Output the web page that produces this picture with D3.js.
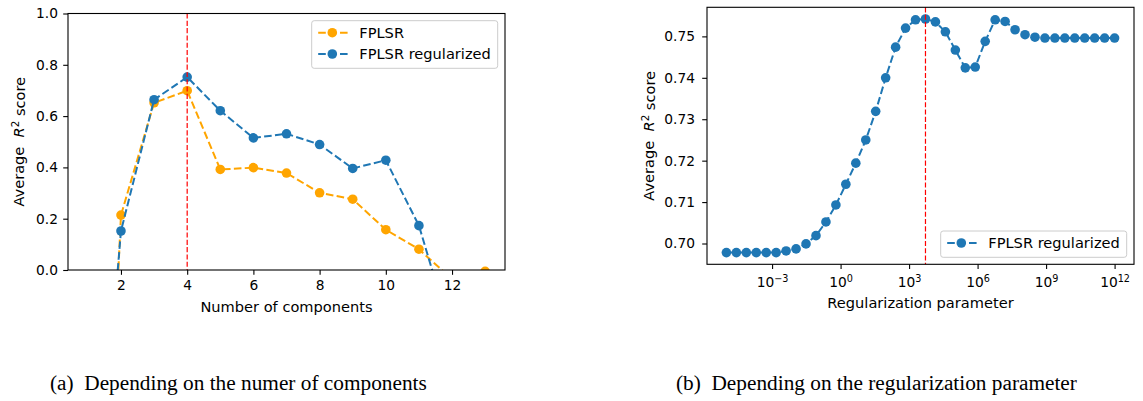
<!DOCTYPE html>
<html>
<head>
<meta charset="utf-8">
<script src="https://cdn.jsdelivr.net/npm/d3@7"></script>
<style>
  html, body { margin: 0; padding: 0; background: #fff; }
  svg { display: block; }
  text { font-family: "DejaVu Sans", sans-serif; fill: #000; }
</style>
</head>
<body>
<svg id="fig" width="1143" height="401"></svg>
<script>
// (a) scores by number of components
const componentCounts = [1, 2, 3, 4, 5, 6, 7, 8, 9, 10, 11, 12, 13];
const fplsrScores    = [-2.5, 0.214, 0.652, 0.699, 0.392, 0.399, 0.378, 0.301, 0.276, 0.157, 0.081, -0.036, -0.005];
const fplsrRegScores = [-1.4, 0.152, 0.664, 0.752, 0.621, 0.515, 0.531, 0.489, 0.396, 0.428, 0.173, -0.26, -0.5];
const bestComponents = 4;
const compTicks = [2, 4, 6, 8, 10, 12];
const scoreTicks = [0, 0.2, 0.4, 0.6, 0.8, 1.0];

// (b) scores by regularization parameter (log10 of the parameter)
const regExponents = [-5.000, -4.564, -4.128, -3.692, -3.256, -2.821, -2.385, -1.949, -1.513, -1.077,
                      -0.641, -0.205, 0.231, 0.667, 1.103, 1.538, 1.974, 2.410, 2.846, 3.282,
                      3.718, 4.154, 4.590, 5.026, 5.462, 5.897, 6.333, 6.769, 7.205, 7.641,
                      8.077, 8.513, 8.949, 9.385, 9.821, 10.256, 10.692, 11.128, 11.564, 12.000];
const regScores = [0.6978, 0.6978, 0.6978, 0.6978, 0.6978, 0.6978, 0.6982, 0.6987, 0.6999, 0.7019,
                   0.7052, 0.7093, 0.7143, 0.7194, 0.7250, 0.7319, 0.7400, 0.7474, 0.7520, 0.7540,
                   0.7542, 0.7535, 0.7511, 0.7467, 0.7424, 0.7426, 0.7488, 0.7540, 0.7536, 0.7516,
                   0.7504, 0.7498, 0.7496, 0.7496, 0.7496, 0.7496, 0.7496, 0.7496, 0.7496, 0.7496];
const bestRegExponent = 3.718;
const regTickExponents = [-3, 0, 3, 6, 9, 12];
const regScoreTicks = [0.70, 0.71, 0.72, 0.73, 0.74, 0.75];

const ORANGE = '#ffa500', BLUE = '#1f77b4';
const TICK_FONT = 13.8, LABEL_FONT = 14.6;
const TICK = 4.8, PAD = 5.2;

const svg = d3.select('#fig');

function frame(g, w, h) {
  g.append('rect')
    .attr('width', w).attr('height', h)
    .attr('fill', 'none').attr('stroke', '#000').attr('stroke-width', 1.1);
}

function yLabel(g, x, y) {
  const t = g.append('text')
    .attr('transform', `translate(${x},${y}) rotate(-90)`)
    .attr('text-anchor', 'middle')
    .style('font-size', LABEL_FONT + 'px')
    .style('white-space', 'pre');
  t.append('tspan').text('Average  ');
  t.append('tspan').style('font-style', 'italic').text('R');
  t.append('tspan').attr('dy', '-0.45em').style('font-size', (LABEL_FONT * 0.7) + 'px').text('2');
  t.append('tspan').attr('dy', '0.45em').text(' score');
}

function series(g, x, y, xs, ys, color, clipId) {
  const pts = xs.map((d, i) => [d, ys[i]]);
  const s = g.append('g').attr('clip-path', `url(#${clipId})`);
  s.append('path')
    .datum(pts)
    .attr('fill', 'none')
    .attr('stroke', color)
    .attr('stroke-width', 2)
    .attr('stroke-dasharray', '7.6,3.3')
    .attr('d', d3.line().x(d => x(d[0])).y(d => y(d[1])));
  s.selectAll('circle')
    .data(pts)
    .enter()
    .append('circle')
      .attr('cx', d => x(d[0]))
      .attr('cy', d => y(d[1]))
      .attr('r', 4.8)
      .attr('fill', color);
}

function legend(g, x, y, w, h, items) {
  g.append('rect')
    .attr('x', x).attr('y', y).attr('width', w).attr('height', h)
    .attr('rx', 2.5)
    .attr('fill', '#fff').attr('fill-opacity', 0.8)
    .attr('stroke', '#cccccc').attr('stroke-width', 1);
  items.forEach((it, i) => {
    const cy = y + 12 + i * 21.3;
    g.append('line')
      .attr('x1', x + 6.5).attr('x2', x + 36)
      .attr('y1', cy).attr('y2', cy)
      .attr('stroke', it.color).attr('stroke-width', 2)
      .attr('stroke-dasharray', '7.6,3.3');
    g.append('circle').attr('cx', x + 20.6).attr('cy', cy).attr('r', 4.8).attr('fill', it.color);
    g.append('text')
      .attr('x', x + 47.6).attr('y', cy + 5.3)
      .style('font-size', LABEL_FONT + 'px')
      .text(it.label);
  });
}

svg.append('defs').call(defs => {
  defs.append('clipPath').attr('id', 'clipA').append('rect').attr('width', 437).attr('height', 256.5);
  defs.append('clipPath').attr('id', 'clipB').append('rect').attr('width', 427).attr('height', 257);
});

// ---- (a) ----
const A = { left: 68, top: 13.5, width: 437, height: 256.5 };
const gA = svg.append('g').attr('transform', `translate(${A.left},${A.top})`);
const xA = d3.scaleLinear().domain([0.4, 13.6]).range([0, A.width]);
const yA = d3.scaleLinear().domain([0, 1]).range([A.height, 0]);

gA.append('g')
  .attr('transform', `translate(0,${A.height})`)
  .call(d3.axisBottom(xA).tickValues(compTicks).tickFormat(d3.format('d')).tickSize(TICK).tickPadding(PAD).tickSizeOuter(0))
  .call(a => a.select('.domain').remove());
gA.append('g')
  .call(d3.axisLeft(yA).tickValues(scoreTicks).tickFormat(d3.format('.1f')).tickSize(TICK).tickPadding(PAD).tickSizeOuter(0))
  .call(a => a.select('.domain').remove());

series(gA, xA, yA, componentCounts, fplsrScores, ORANGE, 'clipA');
series(gA, xA, yA, componentCounts, fplsrRegScores, BLUE, 'clipA');

gA.append('line')
  .attr('x1', xA(bestComponents)).attr('x2', xA(bestComponents))
  .attr('y1', 0).attr('y2', A.height)
  .attr('stroke', '#ff0000').attr('stroke-width', 1.2)
  .attr('stroke-dasharray', '5.1,2.2');

frame(gA, A.width, A.height);
legend(gA, 311.7 - A.left, 20.7 - A.top, 186, 47.6, [
  { label: 'FPLSR', color: ORANGE },
  { label: 'FPLSR regularized', color: BLUE }
]);

gA.append('text')
  .attr('x', A.width / 2).attr('y', 311.7 - A.top)
  .attr('text-anchor', 'middle')
  .style('font-size', LABEL_FONT + 'px')
  .text('Number of components');
yLabel(svg, 23.5, A.top + A.height / 2);

// ---- (b) ----
const B = { left: 707, top: 7.3, width: 427, height: 257 };
const gB = svg.append('g').attr('transform', `translate(${B.left},${B.top})`);
const xB = d3.scaleLog().domain([Math.pow(10, -5.85), Math.pow(10, 12.85)]).range([0, B.width]);
const yB = d3.scaleLinear().domain([0.69498, 0.75702]).range([B.height, 0]);

gB.append('g')
  .attr('transform', `translate(0,${B.height})`)
  .call(d3.axisBottom(xB).tickValues(regTickExponents.map(e => Math.pow(10, e))).tickFormat('').tickSize(TICK).tickPadding(PAD).tickSizeOuter(0))
  .call(a => a.select('.domain').remove())
  .call(a => a.selectAll('.tick text').each(function (d, i) {
    const t = d3.select(this).attr('y', 22.8).attr('dy', null);
    const e = regTickExponents[i];
    t.append('tspan').text('10');
    t.append('tspan').attr('dy', '-0.5em').style('font-size', (TICK_FONT * 0.7) + 'px')
      .text(e < 0 ? '\u2212' + Math.abs(e) : String(e));
  }));
gB.append('g')
  .call(d3.axisLeft(yB).tickValues(regScoreTicks).tickFormat(d3.format('.2f')).tickSize(TICK).tickPadding(PAD + 2).tickSizeOuter(0))
  .call(a => a.select('.domain').remove());

series(gB, xB, yB, regExponents.map(e => Math.pow(10, e)), regScores, BLUE, 'clipB');

gB.append('line')
  .attr('x1', xB(Math.pow(10, bestRegExponent))).attr('x2', xB(Math.pow(10, bestRegExponent)))
  .attr('y1', 0).attr('y2', B.height)
  .attr('stroke', '#ff0000').attr('stroke-width', 1.2)
  .attr('stroke-dasharray', '5.1,2.2');

frame(gB, B.width, B.height);
legend(gB, 940.7 - B.left, 231 - B.top, 186, 26.3, [
  { label: 'FPLSR regularized', color: BLUE }
]);

gB.append('text')
  .attr('x', B.width / 2).attr('y', 308 - B.top)
  .attr('text-anchor', 'middle')
  .style('font-size', LABEL_FONT + 'px')
  .text('Regularization parameter');
yLabel(svg, 653.5, B.top + B.height / 2);

// style ticks
svg.selectAll('.tick line').attr('stroke', '#000').attr('stroke-width', 1.1);
svg.selectAll('.tick text').style('font-size', TICK_FONT + 'px').style('font-family', '"DejaVu Sans", sans-serif').attr('fill', '#000');

// captions
svg.append('text')
  .attr('x', 50).attr('y', 390)
  .style('font-family', '"Liberation Serif", "Times New Roman", serif')
  .style('font-size', '21.3px')
  .style('white-space', 'pre')
  .text('(a)  Depending on the numer of components');
svg.append('text')
  .attr('x', 676).attr('y', 390)
  .style('font-family', '"Liberation Serif", "Times New Roman", serif')
  .style('font-size', '21.3px')
  .style('white-space', 'pre')
  .text('(b)  Depending on the regularization parameter');
</script>
</body>
</html>
